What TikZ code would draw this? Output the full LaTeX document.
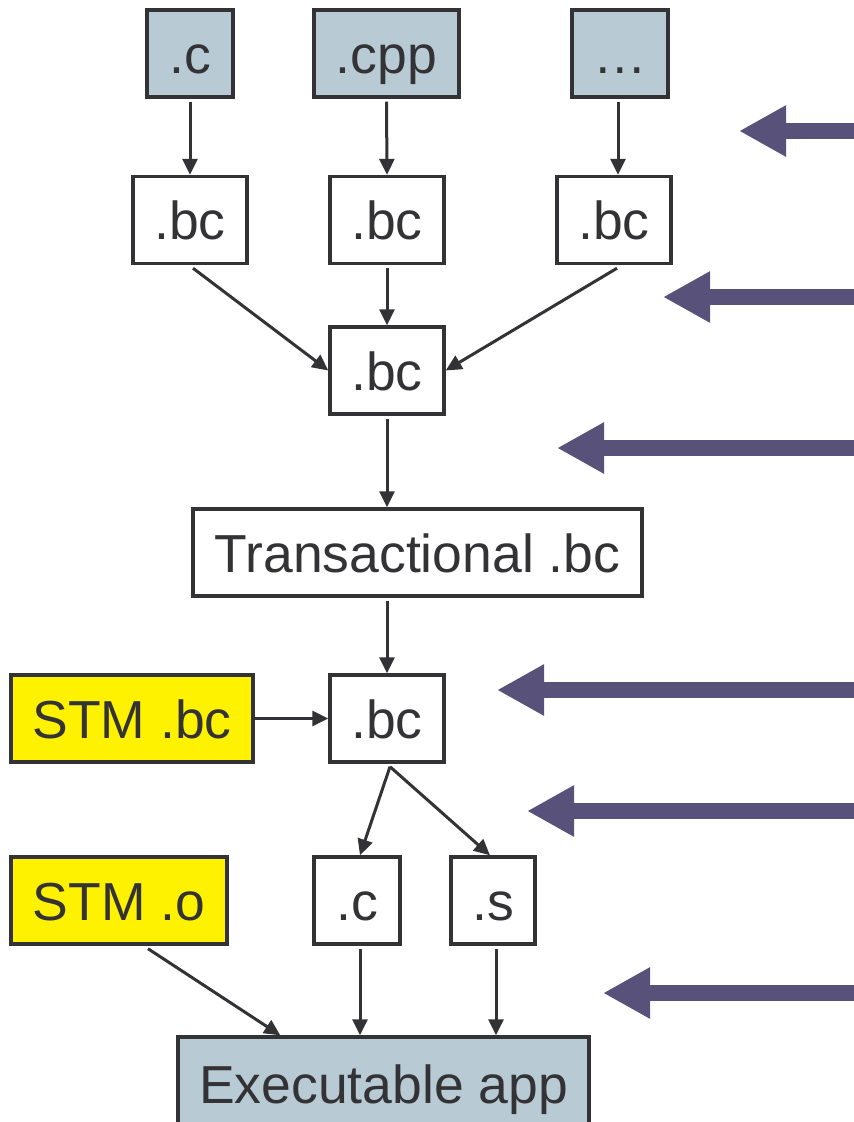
\documentclass[tikz,border=0pt]{standalone}
\usepackage{fontspec}
\setmainfont{Liberation Sans}
\usetikzlibrary{arrows.meta,calc}
\definecolor{srcfill}{HTML}{B8CAD4}
\definecolor{stmfill}{HTML}{FFF200}
\definecolor{ink}{HTML}{333336}
\definecolor{bigarrow}{HTML}{58527A}
\begin{document}
\begin{tikzpicture}[x=1pt,y=-1pt,
  box/.style={draw=ink,line width=3.4pt,inner sep=0pt,minimum height=87pt,
    text=ink,font=\fontsize{53.5}{60}\selectfont,text height=39pt,text depth=0pt},
  srcbox/.style={box,fill=srcfill},
  stmbox/.style={box,fill=stmfill},
  wbox/.style={box,fill=white},
  conn/.style={draw=ink,line width=3pt,-{Triangle[length=16pt,width=15pt]}},
  fat/.style={draw=bigarrow,line width=16pt,-{Triangle[length=47pt,width=48pt]}}]
\useasboundingbox (0,0) rectangle (854,1122);
% source boxes
\node[srcbox,minimum width=86pt] (s1) at (190,53.5) {.c};
\node[srcbox,minimum width=145pt] (s2) at (386.5,53.5) {.cpp};
\node[srcbox,minimum width=96pt] (s3) at (620,53.5) {\ldots};
% first bc row
\node[wbox,minimum width=114pt] (b1) at (190,220) {.bc};
\node[wbox,minimum width=114pt] (b2) at (387,220) {.bc};
\node[wbox,minimum width=114pt] (b3) at (614,220) {.bc};
% linked bc
\node[wbox,minimum width=114pt] (bm) at (387,370.5) {.bc};
\node[wbox,minimum width=449pt] (tr) at (417.5,552.5) {Transactional .bc};
\node[stmbox,minimum width=242pt] (stmbc) at (132,718.5) {STM .bc};
\node[wbox,minimum width=114pt] (b4) at (387,718.5) {.bc};
\node[stmbox,minimum width=216pt] (stmo) at (119,900.5) {STM .o};
\node[wbox,minimum width=86pt] (cc) at (357,900.5) {.c};
\node[wbox,minimum width=84pt] (ss) at (493,900.5) {.s};
\node[srcbox,minimum width=411pt,minimum height=93pt] (exe) at (383.5,1083.5) {Executable app};
% connectors
\draw[conn] ([yshift=-3pt]s1.south) -- (b1.north);
\draw[conn] ([yshift=-3pt]s2.south) -- (b2.north);
\draw[conn] ([xshift=-2pt,yshift=-3pt]s3.south) -- ([xshift=4pt]b3.north);
\draw[conn] ([xshift=3pt,yshift=-3pt]b1.south) -- (bm.west);
\draw[conn] ([yshift=-3pt]b2.south) -- (bm.north);
\draw[conn] ([xshift=3pt,yshift=-3pt]b3.south) -- (bm.east);
\draw[conn] ([yshift=-3pt]bm.south) -- (bm.south |- tr.north);
\draw[conn] ([yshift=-3pt]tr.south -| b4.north) -- (b4.north);
\draw[conn] (stmbc.east) -- (b4.west);
\draw[conn] ([xshift=3pt,yshift=-3pt]b4.south) -- ([xshift=3pt]cc.north);
\draw[conn] ([xshift=3pt,yshift=-3pt]b4.south) -- ([xshift=-3pt]ss.north);
\draw[conn] ([xshift=29pt,yshift=-3pt]stmo.south) -- ([xshift=104pt]exe.north west);
\draw[conn] ([xshift=3pt,yshift=-3pt]cc.south) -- ([xshift=3pt]cc.south |- exe.north);
\draw[conn] ([xshift=3pt,yshift=-3pt]ss.south) -- ([xshift=3pt]ss.south |- exe.north);
% big arrows
\coordinate (t1) at (739,131); \coordinate (e1) at (856,131);
\coordinate (t2) at (663,297); \coordinate (e2) at (856,297);
\coordinate (t3) at (557,448); \coordinate (e3) at (856,448);
\coordinate (t4) at (497,690); \coordinate (e4) at (856,690);
\coordinate (t5) at (527,811); \coordinate (e5) at (856,811);
\coordinate (t6) at (603,993); \coordinate (e6) at (856,993);
\foreach \i in {1,...,6} \draw[fat] (e\i) -- (t\i);
\end{tikzpicture}
\end{document}
